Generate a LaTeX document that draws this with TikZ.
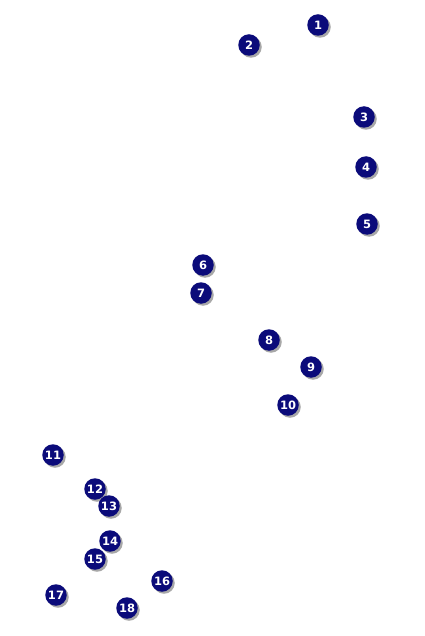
\documentclass[tikz,border=0pt]{standalone}
\usepackage{fontspec}
\setmainfont{DejaVu Sans}
\definecolor{navy}{HTML}{0B0B7A}
\definecolor{shadowgray}{HTML}{A8A8A8}
\begin{document}
\begin{tikzpicture}[x=1pt,y=-1pt,
  badge/.style={circle,fill=navy,minimum size=21.5pt,inner sep=0pt,text=white,font=\bfseries\fontsize{11.5}{12}\selectfont},
  badgeshadow/.style={circle,fill=shadowgray,minimum size=21.5pt,inner sep=0pt}]
\useasboundingbox[fill=white] (0,0) rectangle (424,636);
\foreach \n/\x/\y in {1/318/25,2/249/45,3/364/117,4/366/167,5/367/224,6/203/265,7/201/293,8/269/340,9/311/367,10/288/405,11/53/455,12/95/489,13/109/506,14/110/541,15/95/559,16/162/581,17/56/595,18/127/608}{
  \node[badgeshadow] (s\n) at (\x+2,\y+2) {};
  \node[badge] (b\n) at (\x,\y) {\n};
}
\end{tikzpicture}
\end{document}
